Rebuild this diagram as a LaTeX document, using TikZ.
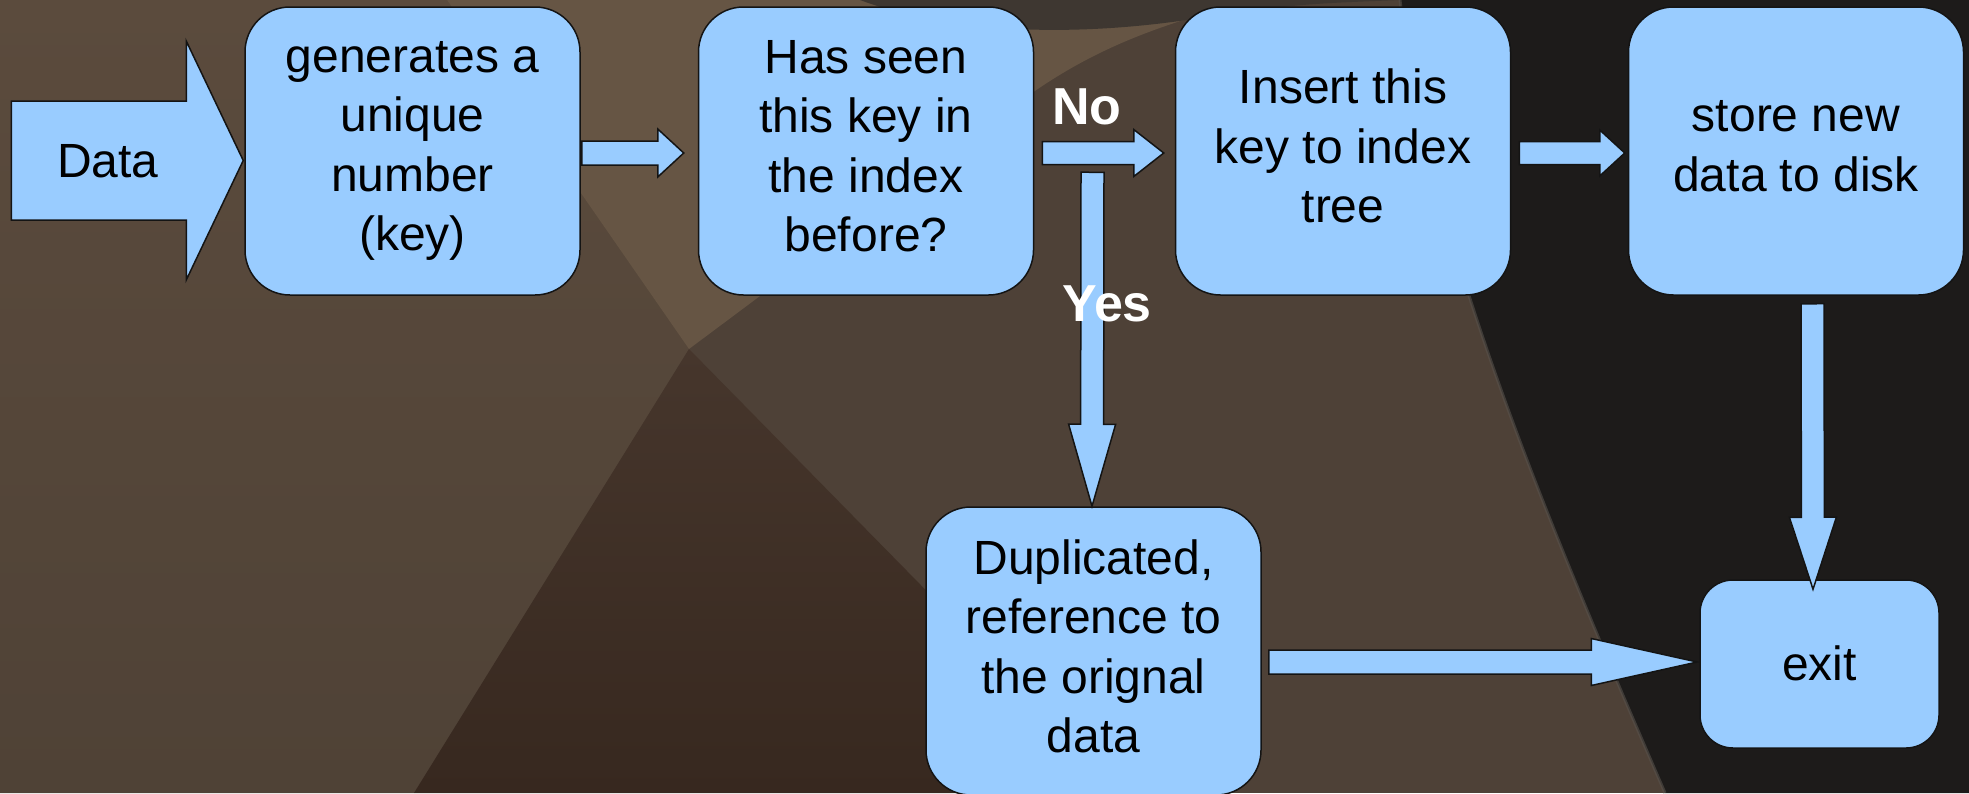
\documentclass[tikz,border=0pt]{standalone}
\usepackage{fontspec}
\setmainfont{Liberation Sans}
\usetikzlibrary{calc}

\definecolor{boxblue}{HTML}{99CCFF}
\definecolor{edge}{HTML}{141414}
\definecolor{bgmid}{HTML}{4E4137}
\definecolor{bgtl}{HTML}{5B4B3D}
\definecolor{bgbl}{HTML}{4F4236}
\definecolor{bglight}{HTML}{665544}
\definecolor{bgslate}{HTML}{3E3731}
\definecolor{bgdeepa}{HTML}{46362C}
\definecolor{bgdeepb}{HTML}{37281F}
\definecolor{bgnight}{HTML}{1D1B1A}
\definecolor{bgrim}{HTML}{57514B}

% struts with the font's ascent/descent, so text blocks centre like the slides do
\newcommand\topstrut{\rule{0pt}{\dimexpr0.905em+8pt\relax}}
\newcommand\botstrut{\rule[-0.212em]{0pt}{0pt}}
\newcommand\ostrut{\rule[-0.212em]{0pt}{1.117em}}

% block arrow: #1 tail, #2 tip, #3 shaft half-width, #4 head half-width, #5 head length
\newcommand\blockarrow[5]{%
  \draw[barrow]
    ($(#1)!#3!90:(#2)$) --
    ($(#2)!#5!(#1)!#3!-90:(#1)$) --
    ($(#2)!#5!(#1)!#4!-90:(#1)$) --
    (#2) --
    ($(#2)!#5!(#1)!#4!90:(#1)$) --
    ($(#2)!#5!(#1)!#3!90:(#1)$) --
    ($(#1)!#3!-90:(#2)$) -- cycle;}

\tikzset{
  boxbase/.style={draw=edge, line width=1.5pt, fill=boxblue, inner sep=0pt,
    align=center, font=\fontsize{48}{59.5}\selectfont},
  stepbox/.style={boxbase, rounded corners=45pt,
    minimum width=335pt, minimum height=288pt,
    execute at begin node=\topstrut, execute at end node=\botstrut},
  endbox/.style={boxbase, minimum width=239pt, minimum height=168pt,
    rounded corners=33pt, execute at begin node=\ostrut},
  barrow/.style={draw=edge, line width=1.5pt, fill=boxblue, line join=miter},
  plainlabel/.style={inner sep=0pt, anchor=base, font=\fontsize{48}{59.5}\selectfont},
  answer/.style={inner sep=0pt, anchor=base, text=white,
    font=\bfseries\fontsize{52}{60}\selectfont}
}

\begin{document}
\begin{tikzpicture}[x=1pt,y=-1pt]
\useasboundingbox (0,0) rectangle (1969,793);

% backdrop
\fill[bgmid] (0,0) rectangle (1969,793);
\shade[top color=bgtl, bottom color=bgbl]
  (0,0) -- (447,0) -- (689,349) -- (414,793) -- (0,793) -- cycle;
\fill[bglight] (447,0) -- (689,349) -- (1005,113)
  .. controls (1070,62) and (1130,35) .. (1210,12) -- (1210,0) -- cycle;
\fill[bgslate] (860,0) .. controls (940,30) and (1060,40) .. (1200,18)
  .. controls (1300,4) .. (1400,0) -- cycle;
\shade[top color=bgdeepa, bottom color=bgdeepb]
  (689,349) -- (414,793) -- (1125,793) -- cycle;
\fill[bgnight] (1400,0) .. controls (1430,250) and (1560,550) .. (1665,793)
  -- (1969,793) -- (1969,0) -- cycle;
\draw[bgrim, line width=3pt, opacity=0.6]
  (1400,0) .. controls (1430,250) and (1560,550) .. (1665,793);

% process boxes
\node[stepbox] (gen)   at (412.5,151) {generates a\\unique\\number\\(key)};
\node[stepbox] (seen)  at (866,151)   {Has seen\\this key in\\the index\\before?};
\node[stepbox] (ins)   at (1343,151)  {Insert this\\key to index\\tree};
\node[stepbox] (store) at (1796,151)  {store new\\data to disk};
\node[stepbox] (dup)   at (1093.5,651) {Duplicated,\\reference to\\the orignal\\data};
\node[endbox]  (done)  at (1819.5,664) {exit};

% arrow end points
\coordinate (dtail) at ($(gen.west)+(-233,9.5)$);
\coordinate (dtip)  at ($(gen.west)+(-1,9.5)$);
\coordinate (a1s) at ($(gen.east)+(1,2)$);
\coordinate (a1t) at ($(seen.west)+(-14,2)$);
\coordinate (nos) at ($(seen.east)+(8,2)$);
\coordinate (not) at ($(ins.west)+(-11,2)$);
\coordinate (a3s) at ($(ins.east)+(8,2)$);
\coordinate (a3t) at ($(store.west)+(-3,2)$);
\coordinate (yess) at ($(dup.north)+(-1,-334)$);
\coordinate (yest) at ($(dup.north)+(-1.5,0)$);
\coordinate (a4s) at ($(store.south)+(16.5,8)$);
\coordinate (a4t) at ($(done.north)+(-6.5,10)$);
\coordinate (a5s) at ($(dup.east)+(7,11)$);
\coordinate (a5t) at ($(done.west)+(-2,-2)$);

% block arrows
\blockarrow{dtail}{dtip}{59.5pt}{119.5pt}{57pt}
\blockarrow{a1s}{a1t}{12pt}{24pt}{26pt}
\blockarrow{nos}{not}{11.5pt}{23.5pt}{30pt}
\blockarrow{a3s}{a3t}{11.5pt}{23pt}{25pt}
\blockarrow{yess}{yest}{11.5pt}{23.5pt}{82pt}
\blockarrow{a4s}{a4t}{11.5pt}{23.5pt}{72pt}
\blockarrow{a5s}{a5t}{12pt}{23.5pt}{106pt}

% labels
\node[plainlabel] (data) at (108,177) {Data};
\node[answer] (no)  at (1087,124) {No};
\node[answer] (yes) at (1107,321) {Yes};
\end{tikzpicture}
\end{document}
